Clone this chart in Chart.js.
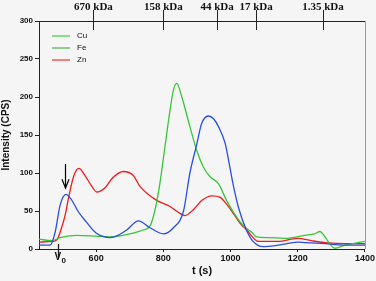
<!DOCTYPE html>
<html>
<head>
<meta charset="utf-8">
<script src="https://cdn.jsdelivr.net/npm/chart.js@4"></script>
<style>
  html, body { margin: 0; padding: 0; background: #f5f5f5; }
  #wrap { width: 376px; height: 281px; }
</style>
</head>
<body>
<div id="wrap"><canvas id="elutionChart"></canvas></div>
<script>
// elution profile data (t in s, intensity in CPS)
const blueTime = [430, 463, 478, 493, 510, 525, 547, 570, 600, 642, 665, 691, 726, 760, 800, 830, 860, 879, 899, 914, 934, 950, 964, 984, 994, 1009, 1024, 1047, 1067, 1097, 1142, 1200, 1240, 1270, 1340, 1400];
const blueValues = [5, 5, 22, 58, 72, 66, 49, 36, 21, 15, 18, 25, 37, 28, 20, 28, 50, 100, 137, 165, 175, 171, 161, 139, 117, 82, 54, 25, 10, 3, 5, 9, 8, 7.5, 5, 5];

const greenTime = [430, 468, 493, 543, 600, 642, 710, 740, 760, 775, 790, 800, 820, 830, 840, 855, 879, 899, 919, 939, 964, 988, 1018, 1040, 1063, 1077, 1112, 1162, 1221, 1250, 1266, 1278, 1290, 1310, 1340, 1400];
const greenValues = [13, 11, 15, 18, 17, 16, 21, 25, 30, 51, 87, 119, 183, 209, 218, 200, 161, 130, 108, 95, 86, 64, 42, 30, 22, 16, 15, 14, 18, 20, 23, 18, 10, 1, 5, 10];

const redTime = [430, 470, 483, 495, 508, 520, 535, 549, 565, 585, 602, 625, 650, 681, 710, 731, 780, 820, 845, 864, 890, 915, 944, 969, 990, 1008, 1028, 1048, 1083, 1141, 1200, 1240, 1290, 1340, 1400];
const redValues = [9, 10, 12, 25, 45, 72, 98, 106, 98, 84, 75, 80, 94, 102, 97, 82, 64, 56, 48, 44, 52, 64, 70, 68, 58, 47, 34, 25, 10, 10, 14, 11, 8, 7, 7];

const xTicks = [600, 800, 1000, 1200, 1400];
const yTicks = [0, 50, 100, 150, 200, 250, 300];
const kdaPositions = [592, 800, 960, 1076, 1275];
const kdaLabels = ['670 kDa', '158 kDa', '44 kDa', '17 kDa', '1.35 kDa'];
const v0Time = 487;
const arrowTime = 507;
const arrowRange = [112, 80];

const legendLabels = ['Cu', 'Fe', 'Zn'];
const legendColors = ['#3ad23a', '#4caf50', '#ff2a2a'];

function toPoints(ts, vs) {
    return ts.map((t, i) => ({ x: t, y: vs[i] }));
}

function lineSet(label, ts, vs, color) {
    return {
        label: label,
        data: toPoints(ts, vs),
        borderColor: color,
        borderWidth: 1.3,
        pointRadius: 0,
        fill: false,
        cubicInterpolationMode: 'monotone'
    };
}

// background, border on the right, kDa ticks, V0 marker, arrow, legend
const extras = {
    id: 'extras',
    beforeDraw(chart) {
        const c = chart.ctx;
        c.save();
        c.fillStyle = '#f5f5f5';
        c.fillRect(0, 0, chart.width, chart.height);
        c.restore();
    },
    afterDraw(chart) {
        const c = chart.ctx;
        const area = chart.chartArea;
        const xs = chart.scales.x;
        const ys = chart.scales.y;
        c.save();
        // right frame
        c.strokeStyle = '#9a9a9a';
        c.lineWidth = 1;
        c.beginPath();
        c.moveTo(area.right + 0.5, area.top);
        c.lineTo(area.right + 0.5, area.bottom);
        c.stroke();
        // kDa ticks crossing the top frame
        c.strokeStyle = '#222';
        kdaPositions.forEach(p => {
            const px = Math.round(xs.getPixelForValue(p)) + 0.5;
            c.beginPath();
            c.moveTo(px, area.top - 11);
            c.lineTo(px, area.top + 9);
            c.stroke();
        });
        // V0 tick and label
        const vx = Math.round(xs.getPixelForValue(v0Time)) + 0.5;
        c.lineWidth = 1.3;
        c.beginPath();
        c.moveTo(vx, area.bottom - 5);
        c.lineTo(vx, area.bottom + 9);
        c.stroke();
        c.fillStyle = '#111';
        c.font = 'bold 10px "Liberation Sans", Arial, sans-serif';
        c.textAlign = 'left';
        c.textBaseline = 'alphabetic';
        c.fillText('V', vx - 4, area.bottom + 11);
        c.font = 'bold 8px "Liberation Sans", Arial, sans-serif';
        c.fillText('0', vx + 3, area.bottom + 14);
        // arrow pointing at the void peak
        const ax = Math.round(xs.getPixelForValue(arrowTime)) + 0.5;
        const ay1 = ys.getPixelForValue(arrowRange[0]);
        const ay2 = ys.getPixelForValue(arrowRange[1]);
        c.strokeStyle = '#000';
        c.lineWidth = 1.2;
        c.beginPath();
        c.moveTo(ax, ay1);
        c.lineTo(ax, ay2);
        c.moveTo(ax - 3.5, ay2 - 9);
        c.lineTo(ax, ay2);
        c.lineTo(ax + 3.5, ay2 - 9);
        c.stroke();
        // legend
        c.font = '8px "Liberation Sans", Arial, sans-serif';
        c.textBaseline = 'middle';
        legendLabels.forEach((lab, i) => {
            const ly = area.top + 15 + i * 12;
            c.strokeStyle = legendColors[i];
            c.lineWidth = 1.2;
            c.beginPath();
            c.moveTo(area.left + 13, ly);
            c.lineTo(area.left + 31, ly);
            c.stroke();
            c.fillStyle = '#111';
            c.fillText(lab, area.left + 38, ly);
        });
        c.restore();
    }
};

const ctx = document.getElementById('elutionChart').getContext('2d');
const elutionChart = new Chart(ctx, {
    type: 'line',
    data: {
        datasets: [
            lineSet('Cu', blueTime, blueValues, '#2a4ee0'),
            lineSet('Fe', greenTime, greenValues, '#38c638'),
            lineSet('Zn', redTime, redValues, '#f01a1a')
        ]
    },
    options: {
        responsive: true,
        maintainAspectRatio: false,
        animation: false,
        layout: { padding: { left: 0, right: 11, top: 0, bottom: 0 } },
        plugins: {
            legend: { display: false },
            tooltip: { enabled: false }
        },
        scales: {
            x: {
                type: 'linear',
                position: 'bottom',
                min: 430,
                max: 1400,
                afterFit: s => { s.height = 32; },
                afterBuildTicks: s => { s.ticks = xTicks.map(v => ({ value: v })); },
                border: { display: true, color: '#222', width: 1 },
                grid: { drawOnChartArea: false, drawTicks: true, tickLength: 3, color: '#222' },
                ticks: {
                    color: '#111',
                    padding: 1,
                    maxRotation: 0,
                    callback: v => String(v),
                    font: { family: '"Liberation Sans", Arial, sans-serif', size: 9, weight: 'bold' }
                },
                title: {
                    display: true,
                    text: 't (s)',
                    color: '#111',
                    padding: { top: 0, bottom: 3 },
                    font: { family: '"Liberation Sans", Arial, sans-serif', size: 11, weight: 'bold' }
                }
            },
            x2: {
                type: 'linear',
                position: 'top',
                min: 430,
                max: 1400,
                afterFit: s => { s.height = 21; },
                afterBuildTicks: s => { s.ticks = kdaPositions.map(v => ({ value: v })); },
                border: { display: true, color: '#222', width: 1 },
                grid: { drawOnChartArea: false, drawTicks: true, tickLength: 7, color: 'rgba(0,0,0,0)' },
                ticks: {
                    color: '#111',
                    padding: 0,
                    maxRotation: 0,
                    autoSkip: false,
                    callback: (v, i) => kdaLabels[i],
                    font: { family: '"Liberation Serif", "Times New Roman", serif', size: 11, weight: 'bold' }
                }
            },
            y: {
                min: 0,
                max: 300,
                afterFit: s => { s.width = 39; },
                afterBuildTicks: s => { s.ticks = yTicks.map(v => ({ value: v })); },
                border: { display: true, color: '#222', width: 1 },
                grid: { drawOnChartArea: false, drawTicks: true, tickLength: 4, color: '#222' },
                ticks: {
                    color: '#111',
                    padding: 2,
                    font: { family: '"Liberation Sans", Arial, sans-serif', size: 8, weight: 'bold' }
                },
                title: {
                    display: true,
                    text: 'Intensity (CPS)',
                    color: '#111',
                    padding: { top: 0, bottom: 0 },
                    font: { family: '"Liberation Sans", Arial, sans-serif', size: 10, weight: 'bold' }
                }
            }
        }
    },
    plugins: [extras]
});
</script>
</body>
</html>
